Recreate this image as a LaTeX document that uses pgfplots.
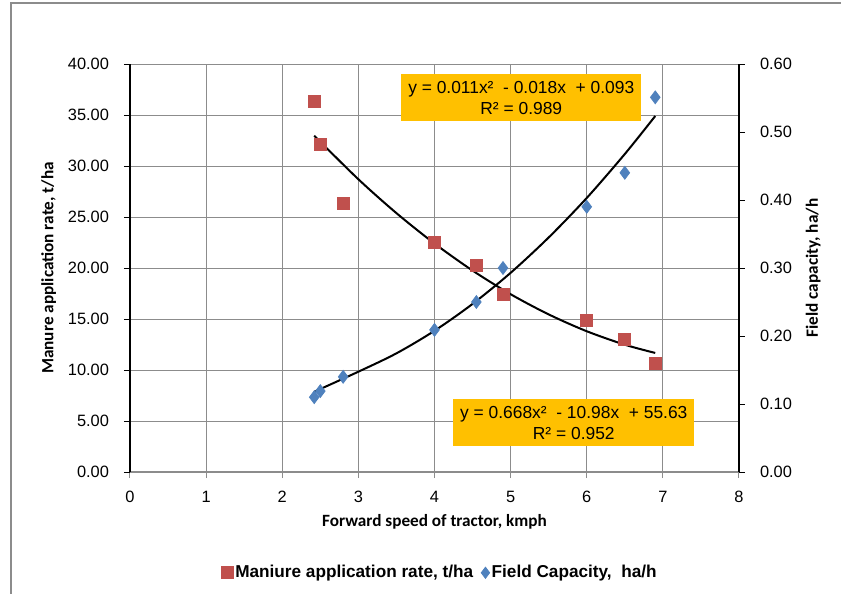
\documentclass[border=0pt]{standalone}
\usepackage{pgfplots}
\pgfplotsset{compat=1.18}
\usepackage{fontspec}
\setmainfont{Liberation Sans}
\newfontfamily\carlito{Carlito}
\definecolor{mred}{HTML}{C0504D}
\definecolor{mblue}{HTML}{4F81BD}
\definecolor{eqorange}{HTML}{FFC000}
\definecolor{gridgray}{HTML}{8C8C8C}
\begin{document}
\begin{tikzpicture}
\useasboundingbox (-65pt,-61pt) rectangle (355.5pt,236pt);
\draw[gridgray,line width=0.8pt] (-59.5pt,-62pt) -- (-59.5pt,234.5pt) -- (357pt,234.5pt);
\begin{axis}[
  at={(0,0)}, anchor=south west,
  scale only axis, width=304.5pt, height=204pt,
  xmin=0, xmax=8, ymin=0, ymax=40,
  xtick={0,1,...,8}, ytick={0,5,...,40},
  axis y line*=left, axis x line*=bottom,
  grid=major, grid style={gridgray, line width=0.5pt},
  x axis line style={gridgray, line width=0.6pt, -},
  y axis line style={black, line width=0.6pt, -},
  tick style={black, line width=0.5pt},
  tick align=outside, major tick length=3pt,
  x tick style={gridgray},
  ticklabel style={font=\fontsize{8.2}{10}\selectfont},
  /pgf/number format/assume math mode=true,
  yticklabel style={/pgf/number format/.cd, fixed, fixed zerofill, precision=2},
  xticklabel style={/pgf/number format/.cd, fixed, precision=0},
  yticklabel shift=4pt, xticklabel shift=3pt,
  xlabel={Forward speed of tractor, kmph},
  ylabel={Manure application rate, t/ha},
  label style={font=\carlito\bfseries\fontsize{8.6}{10}\selectfont},
  xlabel style={yshift=1pt},
  ylabel style={yshift=-1pt},
  clip=false,
  legend columns=2,
  legend style={draw=none, fill=none, at={(rel axis cs:0.509,-0.247)}, anchor=center,
    font=\bfseries\fontsize{8.6}{10}\selectfont,
    nodes={inner xsep=1pt},
    /tikz/every even column/.append style={column sep=3pt}},
  legend image code/.code={\draw[#1] plot coordinates {(0cm,0cm)};},
  legend cell align=left,
]
\addplot[only marks, mark=square*, mark size=3pt, mred] coordinates {
(2.42,36.3) (2.5,32.1) (2.8,26.3) (4.0,22.5) (4.55,20.3) (4.9,17.4) (6.0,14.9) (6.5,13.0) (6.9,10.6)};
\addlegendentry{Maniure application rate, t/ha}
\addlegendimage{only marks, mark=diamond*, mark size=2.8pt, mblue}
\addlegendentry{Field Capacity,\ \ ha/h}
\addplot[smooth, black, line width=1pt, forget plot] coordinates {
(2.42,32.97) (3,28.70) (3.5,25.38) (4,22.40) (4.5,19.75) (5,17.43) (5.5,15.45) (6,13.80) (6.5,12.48) (6.9,11.67)};
\node[fill=eqorange, inner xsep=3.5pt, inner ysep=3.5pt, align=center, font=\fontsize{8.7}{10.5}\selectfont] at (axis cs:5.14,36.7) {y = 0.011x²\ \ - 0.018x\ \ + 0.093\\R² = 0.989};
\node[fill=eqorange, inner xsep=3.5pt, inner ysep=3.5pt, align=center, font=\fontsize{8.7}{10.5}\selectfont] at (axis cs:5.83,4.85) {y = 0.668x²\ \ - 10.98x\ \ + 55.63\\R² = 0.952};
\end{axis}
\begin{axis}[
  at={(0,0)}, anchor=south west,
  scale only axis, width=304.5pt, height=204pt,
  xmin=0, xmax=8, ymin=0, ymax=0.6,
  axis y line*=right, axis x line=none,
  ytick={0,0.1,...,0.6},
  y axis line style={black, line width=0.6pt, -},
  tick style={black, line width=0.5pt},
  tick align=outside, major tick length=3pt,
  ticklabel style={font=\fontsize{8.2}{10}\selectfont},
  /pgf/number format/assume math mode=true,
  yticklabel style={/pgf/number format/.cd, fixed, fixed zerofill, precision=2},
  yticklabel shift=4pt,
  ylabel={Field capacity, ha/h},
  label style={font=\carlito\bfseries\fontsize{8.6}{10}\selectfont},
  clip=false,
]
\addplot[only marks, mark=diamond*, mark size=3.2pt, mblue] coordinates {
(2.42,0.110) (2.5,0.119) (2.8,0.140) (4.0,0.209) (4.55,0.250) (4.9,0.300) (6.0,0.390) (6.5,0.440) (6.9,0.551)};
\addplot[smooth, black, line width=1pt] coordinates {
(2.42,0.118) (3,0.1475) (3.5,0.1745) (4,0.2077) (4.5,0.2472) (5,0.2929) (5.5,0.3449) (6,0.403) (6.5,0.4676) (6.9,0.5235)};
\end{axis}
\end{tikzpicture}
\end{document}
